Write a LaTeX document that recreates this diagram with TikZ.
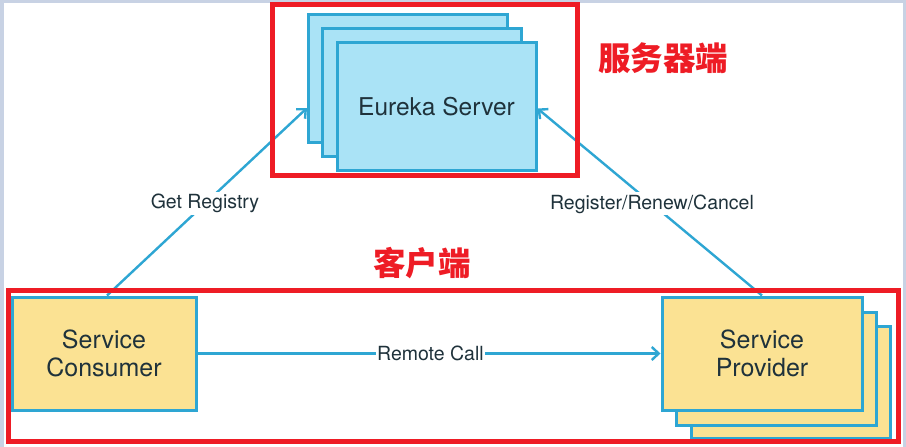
\documentclass[tikz,border=0pt]{standalone}
\usepackage{fontspec}
\setmainfont{TeX Gyre Heros}
\newfontfamily\cjk{Noto Sans CJK SC}
\usetikzlibrary{arrows.meta,calc}
\definecolor{bluefill}{HTML}{AAE3F6}
\definecolor{blueline}{HTML}{2EA6D3}
\definecolor{yellowfill}{HTML}{FBE293}
\definecolor{txt}{HTML}{1F323B}
\definecolor{redframe}{HTML}{EE1C25}
\definecolor{strip}{HTML}{C8D2E4}
\tikzset{
  eurbox/.style={draw=blueline, fill=bluefill, line width=3pt, minimum width=199pt, minimum height=128pt, inner sep=0pt},
  svcbox/.style={draw=blueline, fill=yellowfill, line width=3pt, inner sep=0pt},
  boxtext/.style={text=txt, font=\fontsize{25}{28}\selectfont, align=center},
  arr/.style={draw=blueline, line width=2.4pt, -{Straight Barb[length=7pt,width=13pt,line width=2.4pt]}},
  lbl/.style={text=txt, fill=white, inner sep=2pt, font=\fontsize{19.5}{23}\selectfont},
  frame/.style={draw=redframe, line width=5pt},
  cjklbl/.style={text=redframe, font=\cjk\bfseries\fontsize{32.5}{36}\selectfont}
}
\begin{document}
\begin{tikzpicture}[x=1pt,y=-1pt]
\useasboundingbox (0,0) rectangle (906,447);
\fill[strip] (0,0) rectangle (906,447);
\fill[white] (4,2.5) rectangle (903,447);
% Eureka server stack
\node[eurbox] (eb) at (408,78) {};
\node[eurbox] (em) at (422,92) {};
\node[eurbox, boxtext, font=\fontsize{24.5}{28}\selectfont] (es) at (436.5,106.5) {Eureka Server};
% Service consumer
\node[svcbox, boxtext, minimum width=184pt, minimum height=113pt] (cons) at (104,353.5) {Service\\Consumer};
% Service provider stack
\node[svcbox, minimum width=199pt, minimum height=112pt] (pb) at (790.5,382) {};
\node[svcbox, minimum width=200pt, minimum height=113pt] (pm) at (776,368.5) {};
\node[svcbox, boxtext, minimum width=200pt, minimum height=113pt] (prov) at (762,353.5) {Service\\Provider};
% connectors
\draw[arr] ([xshift=3pt]cons.north) -- ([yshift=-30pt]eb.west)
  node[lbl, pos=0.49] (gr) {Get Registry};
\draw[arr] (prov.north) -- ([yshift=-2pt]es.east)
  node[lbl, pos=0.49] (rr) {Register/Renew/Cancel};
\draw[arr] (cons.east) -- (prov.west)
  node[lbl, pos=0.503, inner sep=1pt] (rc) {Remote Call};
% red frames
\node[frame, minimum width=305pt, minimum height=171pt, inner sep=0pt] (serverframe) at (425,90) {};
\node[frame, minimum width=889.5pt, minimum height=150.5pt, inner sep=0pt] (clientframe) at (453.25,365.75) {};
\node[cjklbl] (srvlbl) at (663,58) {服务器端};
\node[cjklbl] (clilbl) at (422,263) {客户端};
\end{tikzpicture}
\end{document}
